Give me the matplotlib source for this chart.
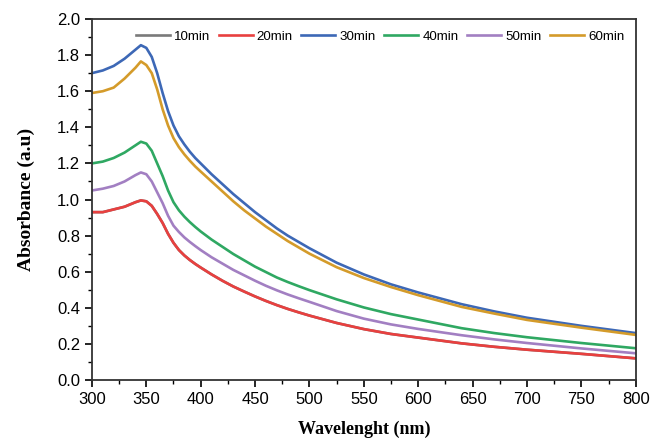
import matplotlib.pyplot as plt
from matplotlib.ticker import MultipleLocator

# wavelength (nm)
wl = [300, 310, 320, 330, 340, 345, 350, 355, 360, 365, 370, 375, 380, 385, 390, 395, 400,
      410, 420, 430, 440, 450, 460, 470, 480, 490, 500, 525, 550, 575, 600, 640, 670, 700,
      750, 800]

a20 = [0.93, 0.93, 0.945, 0.96, 0.985, 0.995, 0.99, 0.965, 0.92, 0.87, 0.81, 0.76, 0.72,
       0.69, 0.665, 0.643, 0.623, 0.585, 0.55, 0.518, 0.49, 0.463, 0.438, 0.415, 0.394,
       0.375, 0.357, 0.316, 0.282, 0.255, 0.235, 0.203, 0.184, 0.168, 0.145, 0.12]
a10 = list(a20)  # gray trace sits under the 20min one
a30 = [1.70, 1.715, 1.74, 1.78, 1.83, 1.855, 1.84, 1.79, 1.70, 1.59, 1.49, 1.41, 1.35,
       1.305, 1.265, 1.23, 1.20, 1.14, 1.085, 1.03, 0.98, 0.93, 0.885, 0.84, 0.80,
       0.765, 0.73, 0.65, 0.585, 0.53, 0.485, 0.42, 0.38, 0.345, 0.30, 0.26]
a40 = [1.20, 1.21, 1.23, 1.26, 1.30, 1.32, 1.31, 1.27, 1.20, 1.13, 1.05, 0.985, 0.94,
       0.905, 0.875, 0.848, 0.823, 0.778, 0.738, 0.698, 0.663, 0.628, 0.598, 0.568, 0.543,
       0.52, 0.498, 0.447, 0.402, 0.365, 0.335, 0.287, 0.26, 0.237, 0.205, 0.176]
a50 = [1.05, 1.06, 1.075, 1.10, 1.135, 1.15, 1.14, 1.10, 1.04, 0.98, 0.91, 0.855, 0.82,
       0.79, 0.765, 0.742, 0.72, 0.68, 0.645, 0.61, 0.58, 0.55, 0.522, 0.497, 0.474,
       0.453, 0.433, 0.382, 0.34, 0.308, 0.283, 0.248, 0.225, 0.205, 0.175, 0.148]
a60 = [1.59, 1.60, 1.62, 1.67, 1.73, 1.765, 1.745, 1.70, 1.61, 1.50, 1.41, 1.34, 1.29,
       1.25, 1.215, 1.183, 1.155, 1.10, 1.045, 0.99, 0.94, 0.895, 0.85, 0.81, 0.77,
       0.735, 0.70, 0.625, 0.565, 0.515, 0.47, 0.405, 0.368, 0.333, 0.29, 0.25]

labels = ["10min", "20min", "30min", "40min", "50min", "60min"]
series = [a10, a20, a30, a40, a50, a60]
colors = ["#7a7a7a", "#e8403f", "#3d68b6", "#2fa862", "#a27fc2", "#d49b2a"]

fig = plt.figure(figsize=(6.52, 4.38), dpi=100)
ax = fig.add_axes([0.141, 0.1324, 0.834, 0.8242])

for y, c, lab in zip(series, colors, labels):
    ax.plot(wl, y, color=c, lw=1.9, label=lab)

ax.set_xlim(300, 800)
ax.set_ylim(0, 2.0)
ax.xaxis.set_major_locator(MultipleLocator(50))
ax.xaxis.set_minor_locator(MultipleLocator(25))
ax.yaxis.set_major_locator(MultipleLocator(0.2))
ax.yaxis.set_minor_locator(MultipleLocator(0.1))
ax.tick_params(which="both", direction="out", top=False, right=False)
ax.tick_params(which="major", length=5, width=1.2, labelsize=12)
ax.tick_params(which="minor", length=3, width=1.0)
for lbl in ax.get_xticklabels() + ax.get_yticklabels():
    lbl.set_fontfamily("Liberation Sans")
for s in ax.spines.values():
    s.set_linewidth(1.3)
    s.set_color("#333333")

ax.set_xlabel("Wavelenght (nm)", fontfamily="Liberation Serif", fontweight="bold",
              fontsize=13, labelpad=10)
ax.set_ylabel("Absorbance (a.u)", fontfamily="Liberation Serif", fontweight="bold",
              fontsize=14, labelpad=16)

ax.legend(ncol=6, loc="upper right", frameon=False, handlelength=2.55,
          columnspacing=0.65, handletextpad=0.3, borderaxespad=0.45,
          prop={"family": "Liberation Sans", "size": 9.6})

fig.savefig("out.png", dpi=100)
